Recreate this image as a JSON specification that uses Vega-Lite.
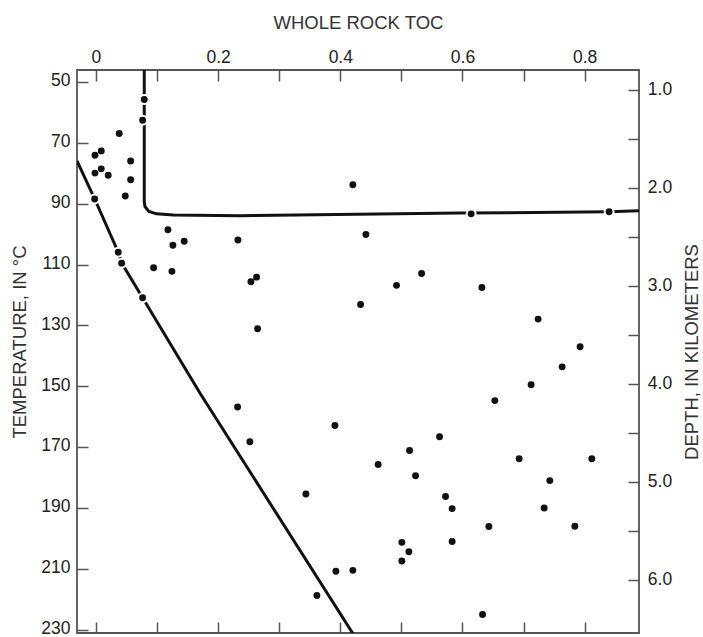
{
  "$schema": "https://vega.github.io/schema/vega-lite/v6.json",
  "width": 562,
  "height": 563,
  "autosize": {"type": "none"},
  "padding": {"left": 77, "top": 70, "right": 64, "bottom": 4},
  "background": "white",
  "config": {
    "view": {"stroke": "#555", "strokeWidth": 1.8},
    "font": "Liberation Sans",
    "axis": {
      "domain": false,
      "grid": false,
      "tickColor": "#555",
      "tickWidth": 1.5,
      "tickSize": -11,
      "labelFont": "Liberation Sans",
      "labelFontSize": 17.5,
      "labelColor": "#222",
      "labelFlush": false,
      "labelOverlap": false,
      "titleFont": "Liberation Sans",
      "titleFontSize": 18.5,
      "titleFontWeight": "normal",
      "titleColor": "#333"
    }
  },
  "datasets": {
    "curves": [
      {"curve": "A", "i": 0, "toc": 0.0791, "temp": 46},
      {"curve": "A", "i": 1, "toc": 0.0791, "temp": 89.2},
      {"curve": "A", "i": 2, "toc": 0.0802, "temp": 90.9},
      {"curve": "A", "i": 3, "toc": 0.0867, "temp": 92.5},
      {"curve": "A", "i": 4, "toc": 0.0993, "temp": 93.3},
      {"curve": "A", "i": 5, "toc": 0.1265, "temp": 93.7},
      {"curve": "A", "i": 6, "toc": 0.2357, "temp": 93.9},
      {"curve": "A", "i": 7, "toc": 0.5957, "temp": 93.05},
      {"curve": "A", "i": 8, "toc": 0.8396, "temp": 92.6},
      {"curve": "A", "i": 9, "toc": 0.889, "temp": 92.3},
      {"curve": "B", "i": 0, "toc": -0.031, "temp": 75.9},
      {"curve": "B", "i": 1, "toc": -0.0021, "temp": 88.4},
      {"curve": "B", "i": 2, "toc": 0.0365, "temp": 105.9},
      {"curve": "B", "i": 3, "toc": 0.0421, "temp": 109.5},
      {"curve": "B", "i": 4, "toc": 0.0764, "temp": 120.9},
      {"curve": "B", "i": 5, "toc": 0.1702, "temp": 152.2},
      {"curve": "B", "i": 6, "toc": 0.4216, "temp": 231.6}
    ],
    "pts": [
      {"toc": 0.0791, "temp": 55.7}, {"toc": 0.0764, "temp": 62.5}, {"toc": 0.0381, "temp": 66.9},
      {"toc": -0.0016, "temp": 74.0}, {"toc": 0.0087, "temp": 72.6}, {"toc": -0.0016, "temp": 79.9},
      {"toc": 0.0087, "temp": 78.5}, {"toc": 0.0201, "temp": 80.6}, {"toc": 0.0568, "temp": 75.9},
      {"toc": 0.0568, "temp": 82.1}, {"toc": 0.048, "temp": 87.4}, {"toc": -0.0021, "temp": 88.4},
      {"toc": 0.1178, "temp": 98.5}, {"toc": 0.126, "temp": 103.6}, {"toc": 0.1445, "temp": 102.3},
      {"toc": 0.0944, "temp": 111.0}, {"toc": 0.1244, "temp": 112.2}, {"toc": 0.0365, "temp": 105.9},
      {"toc": 0.0421, "temp": 109.5}, {"toc": 0.0764, "temp": 120.9}, {"toc": 0.2324, "temp": 101.9},
      {"toc": 0.4206, "temp": 83.75}, {"toc": 0.6142, "temp": 93.3}, {"toc": 0.8401, "temp": 92.6},
      {"toc": 0.4419, "temp": 100.1}, {"toc": 0.263, "temp": 114.1}, {"toc": 0.2537, "temp": 115.6},
      {"toc": 0.5331, "temp": 112.9}, {"toc": 0.4921, "temp": 116.8}, {"toc": 0.6318, "temp": 117.5},
      {"toc": 0.4332, "temp": 123.1}, {"toc": 0.2646, "temp": 131.1}, {"toc": 0.7239, "temp": 127.9},
      {"toc": 0.7926, "temp": 137.0}, {"toc": 0.7632, "temp": 143.6}, {"toc": 0.7124, "temp": 149.5},
      {"toc": 0.653, "temp": 154.7}, {"toc": 0.2319, "temp": 156.8}, {"toc": 0.3912, "temp": 162.9},
      {"toc": 0.252, "temp": 168.2}, {"toc": 0.5625, "temp": 166.6}, {"toc": 0.5134, "temp": 171.1},
      {"toc": 0.6928, "temp": 173.8}, {"toc": 0.8118, "temp": 173.8}, {"toc": 0.462, "temp": 175.7},
      {"toc": 0.5232, "temp": 179.4}, {"toc": 0.743, "temp": 181.0}, {"toc": 0.3437, "temp": 185.4},
      {"toc": 0.5723, "temp": 186.2}, {"toc": 0.5831, "temp": 190.2}, {"toc": 0.7337, "temp": 190.0},
      {"toc": 0.6432, "temp": 196.1}, {"toc": 0.784, "temp": 196.0}, {"toc": 0.5831, "temp": 201.0},
      {"toc": 0.5008, "temp": 201.3}, {"toc": 0.5123, "temp": 204.4}, {"toc": 0.5008, "temp": 207.4},
      {"toc": 0.3928, "temp": 210.8}, {"toc": 0.4206, "temp": 210.5}, {"toc": 0.3617, "temp": 218.8},
      {"toc": 0.6329, "temp": 225.0}
    ],
    "depth": [{"km": 1.0}, {"km": 6.0}]
  },
  "layer": [
    {
      "layer": [
        {
          "data": {"name": "curves"},
          "mark": {"type": "line", "color": "#111", "strokeWidth": 3, "clip": true},
          "encoding": {
            "x": {
              "field": "toc", "type": "quantitative",
              "scale": {"domain": [-0.031, 0.889], "nice": false, "zero": false},
              "axis": {
                "orient": "top",
                "title": "WHOLE ROCK TOC",
                "values": [0, 0.1, 0.2, 0.3, 0.4, 0.5, 0.6, 0.7, 0.8],
                "labelExpr": "round(datum.value * 10) % 2 == 0 ? (datum.value == 0 ? '0' : format(datum.value, '.1f')) : ''",
                "labelPadding": 18.7,
                "labelBaseline": "alphabetic",
                "titleY": -41.7,
                "titleBaseline": "alphabetic"
              }
            },
            "y": {
              "field": "temp", "type": "quantitative",
              "scale": {"domain": [46, 231.1], "reverse": true, "nice": false, "zero": false},
              "axis": {
                "orient": "left",
                "title": "TEMPERATURE, IN °C",
                "values": [50, 60, 70, 80, 90, 100, 110, 120, 130, 140, 150, 160, 170, 180, 190, 200, 210, 220, 230],
                "labelExpr": "(datum.value - 50) % 20 == 0 ? datum.label : ''",
                "labelPadding": 18,
                "labelOffset": -1.2,
                "titleAngle": -90,
                "titleX": -51.3,
                "titleY": 271.5,
                "titleAlign": "center",
                "titleBaseline": "alphabetic"
              }
            },
            "detail": {"field": "curve"},
            "order": {"field": "i", "type": "quantitative"}
          }
        },
        {
          "data": {"name": "pts"},
          "mark": {"type": "circle", "color": "white", "opacity": 1, "size": 120},
          "encoding": {
            "x": {"field": "toc", "type": "quantitative", "axis": null},
            "y": {"field": "temp", "type": "quantitative"}
          }
        },
        {
          "data": {"name": "pts"},
          "mark": {"type": "circle", "color": "#111", "opacity": 1, "size": 48},
          "encoding": {
            "x": {
              "field": "toc", "type": "quantitative",
              "axis": {
                "orient": "bottom",
                "title": null,
                "labels": false,
                "values": [0, 0.1, 0.2, 0.3, 0.4, 0.5, 0.6, 0.7, 0.8]
              }
            },
            "y": {"field": "temp", "type": "quantitative"}
          }
        }
      ],
      "resolve": {"axis": {"x": "independent"}}
    },
    {
      "data": {"name": "depth"},
      "mark": {"type": "rule", "opacity": 0},
      "encoding": {
        "y": {
          "field": "km", "type": "quantitative",
          "scale": {"domain": [0.796, 6.541], "reverse": true, "nice": false, "zero": false},
          "axis": {
            "orient": "right",
            "title": "DEPTH, IN KILOMETERS",
            "values": [1, 1.5, 2, 2.5, 3, 3.5, 4, 4.5, 5, 5.5, 6],
            "labelExpr": "datum.value % 1 == 0 ? format(datum.value, '.1f') : ''",
            "labelPadding": 19.3,
            "labelAlign": "left",
            "titleAngle": -90,
            "titleX": 58.3,
            "titleAlign": "center",
            "titleBaseline": "alphabetic"
          }
        }
      }
    }
  ],
  "resolve": {"scale": {"y": "independent"}}
}
